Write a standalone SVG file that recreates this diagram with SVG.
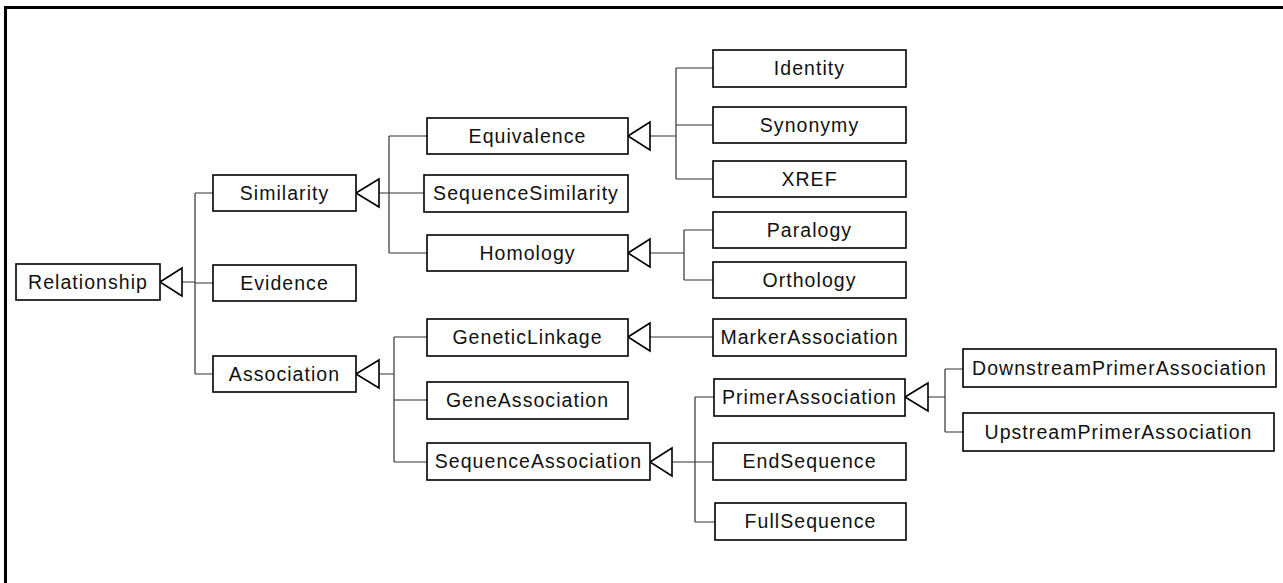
<svg xmlns="http://www.w3.org/2000/svg" width="1283" height="583" viewBox="0 0 1283 583">
<style>
.box{fill:#fff;stroke:#000;stroke-width:1.6}
.lbl{font-family:"Liberation Sans",Arial,sans-serif;font-size:19.5px;letter-spacing:1.05px;fill:#111;text-anchor:middle}
.ln{fill:none;stroke:#333;stroke-width:1.2}
.tri{fill:#fff;stroke:#000;stroke-width:1.6}
</style>
<rect width="1283" height="583" fill="#fff"/>
<path d="M5.5,583 V7.5 H1283" fill="none" stroke="#000" stroke-width="3"/>
<g id="connectors">
<path class="ln" d="M182,282 H195 M195,193 V374 M195,193 H213 M195,283 H213 M195,374 H213"/>
<polygon class="tri" points="160,282 182,268 182,296"/>
<path class="ln" d="M379,193 H389 M389,136 V253 M389,136 H427 M389,193 H424 M389,253 H427"/>
<polygon class="tri" points="356,193 379,179 379,207"/>
<path class="ln" d="M650,136 H676 M676,68 V179 M676,68 H713 M676,125 H713 M676,179 H713"/>
<polygon class="tri" points="628,136 650,122 650,150"/>
<path class="ln" d="M650,253 H684 M684,230 V280 M684,230 H713 M684,280 H713"/>
<polygon class="tri" points="628,253 650,239 650,267"/>
<path class="ln" d="M379,374 H394 M394,337 V462 M394,337 H427 M394,400 H427 M394,462 H427"/>
<polygon class="tri" points="356,374 379,360 379,388"/>
<path class="ln" d="M650,337 H713"/>
<polygon class="tri" points="628,337 650,323 650,351"/>
<path class="ln" d="M672,462 H695 M695,397 V522 M695,397 H714 M695,462 H713 M695,522 H715"/>
<polygon class="tri" points="650,462 672,448 672,476"/>
<path class="ln" d="M928,397 H945 M945,369 V432 M945,369 H963 M945,432 H963"/>
<polygon class="tri" points="905,397 928,383 928,411"/>
</g>
<g id="Relationship"><rect class="box" x="16" y="264" width="144" height="36"/><text class="lbl" x="88" y="288.5">Relationship</text></g>
<g id="Similarity"><rect class="box" x="213" y="175" width="143" height="36"/><text class="lbl" x="284.5" y="199.5">Similarity</text></g>
<g id="Evidence"><rect class="box" x="213" y="265" width="143" height="36"/><text class="lbl" x="284.5" y="289.5">Evidence</text></g>
<g id="Association"><rect class="box" x="213" y="356" width="143" height="36"/><text class="lbl" x="284.5" y="380.5">Association</text></g>
<g id="Equivalence"><rect class="box" x="427" y="118" width="201" height="36"/><text class="lbl" x="527.5" y="142.5">Equivalence</text></g>
<g id="SequenceSimilarity"><rect class="box" x="424" y="175" width="204" height="37"/><text class="lbl" x="526" y="200">SequenceSimilarity</text></g>
<g id="Homology"><rect class="box" x="427" y="235" width="201" height="36"/><text class="lbl" x="527.5" y="259.5">Homology</text></g>
<g id="Identity"><rect class="box" x="713" y="50" width="193" height="37"/><text class="lbl" x="809.5" y="75">Identity</text></g>
<g id="Synonymy"><rect class="box" x="713" y="107" width="193" height="36"/><text class="lbl" x="809.5" y="131.5">Synonymy</text></g>
<g id="XREF"><rect class="box" x="713" y="161" width="193" height="36"/><text class="lbl" x="809.5" y="185.5">XREF</text></g>
<g id="Paralogy"><rect class="box" x="713" y="212" width="193" height="36"/><text class="lbl" x="809.5" y="236.5">Paralogy</text></g>
<g id="Orthology"><rect class="box" x="713" y="262" width="193" height="36"/><text class="lbl" x="809.5" y="286.5">Orthology</text></g>
<g id="GeneticLinkage"><rect class="box" x="427" y="319" width="201" height="37"/><text class="lbl" x="527.5" y="344">GeneticLinkage</text></g>
<g id="GeneAssociation"><rect class="box" x="427" y="382" width="201" height="37"/><text class="lbl" x="527.5" y="407">GeneAssociation</text></g>
<g id="SequenceAssociation"><rect class="box" x="427" y="443" width="223" height="37"/><text class="lbl" x="538.5" y="468">SequenceAssociation</text></g>
<g id="MarkerAssociation"><rect class="box" x="713" y="319" width="193" height="37"/><text class="lbl" x="809.5" y="344">MarkerAssociation</text></g>
<g id="PrimerAssociation"><rect class="box" x="714" y="379" width="191" height="37"/><text class="lbl" x="809.5" y="404">PrimerAssociation</text></g>
<g id="EndSequence"><rect class="box" x="713" y="443" width="193" height="37"/><text class="lbl" x="809.5" y="468">EndSequence</text></g>
<g id="FullSequence"><rect class="box" x="715" y="503" width="191" height="37"/><text class="lbl" x="810.5" y="528">FullSequence</text></g>
<g id="DownstreamPrimerAssociation"><rect class="box" x="963" y="349" width="313" height="38"/><text class="lbl" x="1119.5" y="375">DownstreamPrimerAssociation</text></g>
<g id="UpstreamPrimerAssociation"><rect class="box" x="963" y="413" width="311" height="38"/><text class="lbl" x="1118.5" y="439">UpstreamPrimerAssociation</text></g>
</svg>
